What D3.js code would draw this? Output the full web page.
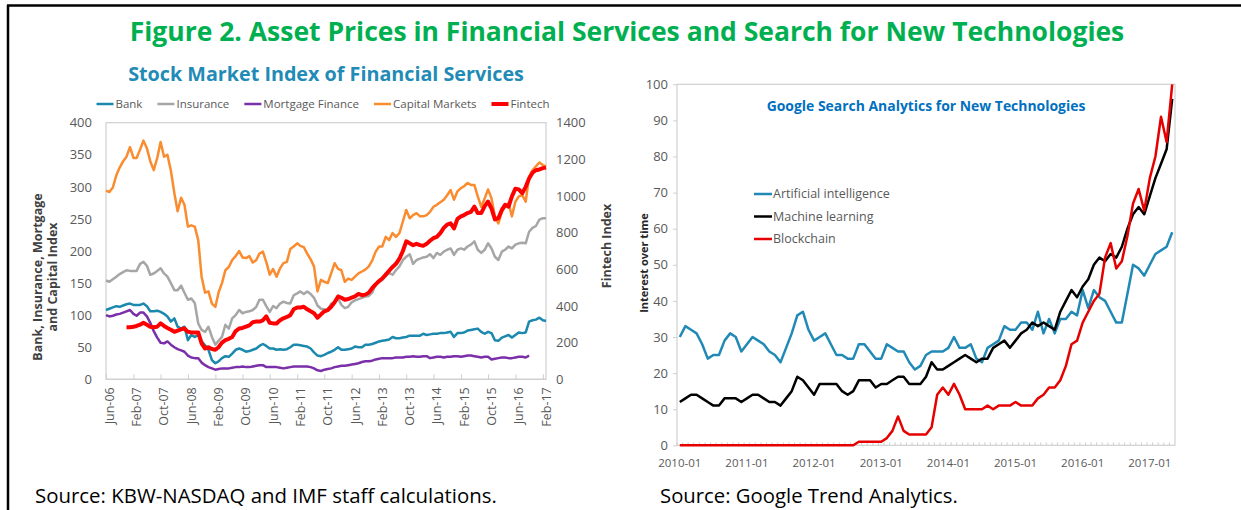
<!DOCTYPE html>
<html>
<head>
<meta charset="utf-8">
<script src="https://cdn.jsdelivr.net/npm/d3@7"></script>
<style>
  body { margin: 0; background: #fff; }
  svg { display: block; }
  text { font-family: 'Open Sans', 'DejaVu Sans', sans-serif; }
</style>
</head>
<body>
<div id="chart"></div>
<script>
// ---- left panel: stock market indices, monthly Jun-06 .. Mar-17 ----
var finStart = '2006-06', finEnd = '2017-03';
var finTickLabels = ['Jun-06','Feb-07','Oct-07','Jun-08','Feb-09','Oct-09','Jun-10','Feb-11',
    'Oct-11','Jun-12','Feb-13','Oct-13','Jun-14','Feb-15','Oct-15','Jun-16','Feb-17'];
var leftTicks = [0, 50, 100, 150, 200, 250, 300, 350, 400];
var rightTicks = [0, 200, 400, 600, 800, 1000, 1200, 1400];

var bank = [108,110,112,114,113,115,117,118,116,116,
    116,118,114,106,106,107,105,102,98,90,
    95,82,79,82,61,69,66,69,59,53,
    46,30,25,28,33,36,35,40,46,48,
    46,43,44,46,48,52,55,52,48,48,
    46,47,46,47,50,54,54,53,52,51,
    48,42,37,36,38,41,43,46,50,46,
    46,47,48,51,50,50,54,54,55,57,
    59,60,61,62,66,64,64,65,66,68,
    68,68,68,71,69,70,71,71,72,72,
    73,74,66,72,72,73,76,77,78,79,
    74,71,74,72,61,60,65,67,69,65,
    69,73,72,73,90,92,93,96,92,91];

var insurance = [154,152,156,160,164,167,170,169,169,169,
    180,183,177,163,165,169,173,165,160,150,
    139,139,146,135,124,126,119,87,77,74,
    82,66,54,60,66,85,79,95,100,108,
    103,105,106,108,113,124,124,114,105,114,
    111,118,121,119,118,131,134,137,133,137,
    133,127,115,110,109,108,118,120,126,116,
    111,113,120,123,125,127,129,130,135,148,
    152,155,161,166,163,170,176,186,191,195,
    180,186,188,190,191,195,189,197,194,199,
    202,204,194,202,204,202,207,210,215,202,
    197,202,212,204,191,186,199,202,207,204,
    210,212,213,212,230,236,239,249,251,251];

var mortgage = [100,98,99,101,102,104,106,108,102,99,
    104,104,98,88,75,65,57,56,59,54,
    50,47,45,43,37,34,33,33,26,22,
    19,17,15,16,17,17,17,18,19,19,
    20,19,19,20,21,22,22,19,19,19,
    19,18,17,18,19,20,20,20,20,20,
    19,17,14,13,15,16,17,19,20,21,
    21,22,23,24,25,27,28,28,29,31,
    32,33,33,33,33,34,34,34,35,35,
    36,35,35,36,36,33,34,35,35,34,
    35,35,36,36,35,36,37,37,36,35,
    34,35,35,31,32,33,34,34,33,33,
    34,35,35,34,37,null,null,null,null,null];

var capital = [294,292,299,318,330,340,347,362,345,345,
    358,372,360,340,326,345,370,347,350,325,
    290,262,283,272,238,240,238,217,160,135,
    137,118,113,135,150,170,175,186,192,200,
    190,189,192,182,186,196,199,183,163,172,
    160,173,181,183,203,207,212,208,206,196,
    187,176,137,155,152,150,165,181,172,170,
    152,157,155,160,165,168,171,176,185,199,
    207,207,222,217,228,222,228,246,264,251,
    256,259,254,254,256,261,269,272,276,280,
    287,295,280,293,298,301,306,303,303,285,
    269,282,296,282,254,243,261,269,275,254,
    277,285,287,277,316,326,332,338,334,332];

// fintech is read on the right axis
var fintech = [null,null,null,null,null,null,284,284,287,291,
    298,308,298,287,284,287,305,291,280,270,
    259,266,273,277,259,256,256,256,196,168,
    175,165,161,175,200,214,221,231,263,277,
    280,287,294,312,315,315,322,343,308,305,
    305,322,333,340,350,382,392,392,396,382,
    371,361,336,354,371,378,396,420,452,445,
    434,438,445,452,466,459,462,473,497,518,
    536,550,571,592,613,630,658,700,753,742,
    732,739,732,728,739,756,770,777,798,826,
    844,851,823,875,889,896,907,914,942,907,
    907,945,970,931,872,879,924,952,942,998,
    1040,1036,1015,1050,1096,1127,1141,1145,1152,1155];

// ---- right panel: google trends, monthly 2010-01 .. 2017-05 ----
var trendStart = '2010-01', trendEnd = '2017-05';
var trendTickLabels = ['2010-01','2011-01','2012-01','2013-01','2014-01','2015-01','2016-01','2017-01'];
var trendYTicks = [0,10,20,30,40,50,60,70,80,90,100];

var ai = [30,33,32,31,28,24,25,25,29,31,
    30,26,28,30,29,28,26,25,23,27,
    31,36,37,32,29,30,31,28,25,25,
    24,24,28,28,26,24,24,28,27,26,
    26,23,21,22,25,26,26,26,27,30,
    27,27,28,24,23,27,28,29,33,32,
    32,34,34,32,37,31,35,31,35,35,
    37,36,43,38,43,41,40,37,34,34,
    42,50,49,47,50,53,54,55,59];

var ml = [12,13,14,14,13,12,11,11,13,13,
    13,12,13,14,14,13,12,12,11,13,
    15,19,18,16,14,17,17,17,17,15,
    14,15,18,18,18,16,17,17,18,19,
    19,17,17,17,19,23,21,21,22,23,
    24,25,24,23,24,24,27,28,29,27,
    29,31,32,34,33,34,33,32,37,40,
    43,41,44,46,50,52,51,53,52,55,
    60,64,66,64,69,74,78,82,96];

var blockchain = [0,0,0,0,0,0,0,0,0,0,
    0,0,0,0,0,0,0,0,0,0,
    0,0,0,0,0,0,0,0,0,0,
    0,0,1,1,1,1,1,2,4,8,
    4,3,3,3,3,5,14,16,14,17,
    14,10,10,10,10,11,10,11,11,11,
    12,11,11,11,13,14,16,16,18,22,
    28,29,34,37,40,42,52,56,49,51,
    58,67,71,65,74,80,91,84,100];

var W = 1241, H = 510;
var parseYM = d3.timeParse('%Y-%m');
var gray = '#595959';

var svg = d3.select('#chart').append('svg')
    .attr('width', W)
    .attr('height', H);

// scale font so the text fills a given width
function fitWidth(sel, w) {
    var cur = sel.node().getComputedTextLength();
    var fs = parseFloat(sel.style('font-size'));
    sel.style('font-size', (fs * w / cur) + 'px');
    return sel;
}

// outer frame (top and left only)
svg.append('line').attr('x1', 7).attr('x2', W).attr('y1', 5.5).attr('y2', 5.5)
    .attr('stroke', '#000').attr('stroke-width', 2.5);
svg.append('line').attr('x1', 8).attr('x2', 8).attr('y1', 5).attr('y2', H)
    .attr('stroke', '#000').attr('stroke-width', 2.5);

fitWidth(svg.append('text')
    .attr('x', 627).attr('y', 41)
    .attr('text-anchor', 'middle')
    .style('font-size', '24px').style('font-weight', 700)
    .attr('fill', '#00B050')
    .text('Figure 2. Asset Prices in Financial Services and Search for New Technologies'), 995);

// ================= left panel =================
var finMonths = d3.timeMonth.range(parseYM(finStart), d3.timeMonth.offset(parseYM(finEnd), 1));
var L = {left: 106, right: 546, top: 122.7, bottom: 379.3};

var x = d3.scaleTime().domain([finMonths[0], finMonths[finMonths.length - 1]]).range([L.left, L.right]);
var yLeft = d3.scaleLinear().domain([0, 400]).range([L.bottom, L.top]);
var yRight = d3.scaleLinear().domain([0, 1400]).range([L.bottom, L.top]);

var left = svg.append('g');

fitWidth(left.append('text')
    .attr('x', 326).attr('y', 81)
    .attr('text-anchor', 'middle')
    .style('font-size', '18px').style('font-weight', 700)
    .attr('fill', '#1F8BB6')
    .text('Stock Market Index of Financial Services'), 396);

left.append('rect')
    .attr('x', L.left).attr('y', L.top)
    .attr('width', L.right - L.left).attr('height', L.bottom - L.top)
    .attr('fill', 'none').attr('stroke', '#CFCFCF').attr('stroke-width', 1.2);

var yAxisL = left.append('g')
    .attr('transform', 'translate(' + L.left + ',0)')
    .call(d3.axisLeft(yLeft).tickValues(leftTicks).tickSize(0).tickPadding(14));
var yAxisR = left.append('g')
    .attr('transform', 'translate(' + L.right + ',0)')
    .call(d3.axisRight(yRight).tickValues(rightTicks).tickSize(0).tickPadding(10)
        .tickFormat(d3.format('d')));

var tickDates = finTickLabels.map(d3.timeParse('%b-%y'));
var xAxisL = left.append('g')
    .attr('transform', 'translate(0,' + L.bottom + ')')
    .call(d3.axisBottom(x).tickValues(tickDates).tickSizeInner(-5).tickSizeOuter(0)
        .tickFormat(d3.timeFormat('%b-%y')));
xAxisL.selectAll('text')
    .attr('transform', 'rotate(-90)')
    .attr('text-anchor', 'end')
    .attr('x', -8).attr('y', 3).attr('dy', '0.35em');
xAxisL.selectAll('.tick line').attr('stroke', '#CFCFCF');

[yAxisL, yAxisR, xAxisL].forEach(function(a) {
    a.select('.domain').remove();
    a.selectAll('text').attr('fill', gray).style('font-size', '13px')
        .style('font-family', "'Open Sans', sans-serif");
});
xAxisL.selectAll('text').style('font-size', '12.5px');
xAxisL.append('line').attr('x1', L.left).attr('x2', L.right).attr('stroke', '#CFCFCF').attr('stroke-width', 1.2);

left.append('text')
    .attr('transform', 'translate(42,277) rotate(-90)')
    .attr('text-anchor', 'middle')
    .style('font-size', '12.5px').style('font-weight', 700).attr('fill', '#404040')
    .text('Bank, Insurance, Mortgage');
left.append('text')
    .attr('transform', 'translate(57,277) rotate(-90)')
    .attr('text-anchor', 'middle')
    .style('font-size', '12.5px').style('font-weight', 700).attr('fill', '#404040')
    .text('and Capital Index');
left.append('text')
    .attr('transform', 'translate(611,246) rotate(-90)')
    .attr('text-anchor', 'middle')
    .style('font-size', '12.5px').style('font-weight', 700).attr('fill', '#404040')
    .text('Fintech Index');

var finSeries = [
    {name: 'Bank', values: bank, color: '#1B88AE', width: 2.5, y: yLeft},
    {name: 'Insurance', values: insurance, color: '#A6A6A6', width: 2.5, y: yLeft},
    {name: 'Mortgage Finance', values: mortgage, color: '#7B2FA8', width: 2.5, y: yLeft},
    {name: 'Capital Markets', values: capital, color: '#FA8B2E', width: 2.5, y: yLeft},
    {name: 'Fintech', values: fintech, color: '#FF0000', width: 4, y: yRight}
];

finSeries.forEach(function(s) {
    var line = d3.line()
        .defined(function(d) { return d != null; })
        .x(function(d, i) { return x(finMonths[i]); })
        .y(function(d) { return s.y(d); });
    left.append('path')
        .datum(s.values)
        .attr('fill', 'none')
        .attr('stroke', s.color)
        .attr('stroke-width', s.width)
        .attr('stroke-linejoin', 'round')
        .attr('d', line);
});

// legend, laid out in one row
var legL = left.append('g').attr('transform', 'translate(0,104)');
var lx = 0;
finSeries.forEach(function(s) {
    var g = legL.append('g').attr('transform', 'translate(' + lx + ',0)');
    g.append('line').attr('x1', 0).attr('x2', 17)
        .attr('stroke', s.color).attr('stroke-width', s.width);
    var t = g.append('text').attr('x', 19).attr('dy', '0.35em')
        .style('font-size', '11.5px').attr('fill', gray).text(s.name);
    lx += 19 + t.node().getComputedTextLength() + 15;
});
legL.attr('transform', 'translate(' + (323 - (lx - 15) / 2) + ',104)');

fitWidth(svg.append('text')
    .attr('x', 35).attr('y', 503)
    .style('font-size', '17px').attr('fill', '#000')
    .text('Source: KBW-NASDAQ and IMF staff calculations.'), 462);

// ================= right panel =================
var trendMonths = d3.timeMonth.range(parseYM(trendStart), d3.timeMonth.offset(parseYM(trendEnd), 1))
    .map(d3.timeFormat('%Y-%m'));
var R = {left: 677, right: 1175, top: 84.3, bottom: 445.3};

var xb = d3.scaleBand().domain(trendMonths).range([R.left, R.right]);
var yt = d3.scaleLinear().domain([0, 100]).range([R.bottom, R.top]);

var right = svg.append('g');

right.append('rect')
    .attr('x', R.left).attr('y', R.top)
    .attr('width', R.right - R.left).attr('height', R.bottom - R.top)
    .attr('fill', 'none').attr('stroke', '#D0D0D0').attr('stroke-width', 1.2);

var yAxisT = right.append('g')
    .attr('transform', 'translate(' + R.left + ',0)')
    .call(d3.axisLeft(yt).tickValues(trendYTicks).tickSize(4).tickPadding(5));
var xAxisT = right.append('g')
    .attr('transform', 'translate(0,' + R.bottom + ')')
    .call(d3.axisBottom(xb).tickValues(trendTickLabels).tickSize(0).tickPadding(14));
[yAxisT, xAxisT].forEach(function(a) {
    a.select('.domain').remove();
    a.selectAll('line').attr('stroke', '#D0D0D0');
    a.selectAll('text').attr('fill', gray).style('font-size', '13px')
        .style('font-family', "'Open Sans', sans-serif");
});
xAxisT.selectAll('text').style('font-size', '11.5px');

// monthly minor ticks pointing inward
right.append('g').selectAll('line')
    .data(trendMonths)
    .enter().append('line')
    .attr('x1', function(d) { return xb(d); })
    .attr('x2', function(d) { return xb(d); })
    .attr('y1', R.bottom).attr('y2', R.bottom - 3)
    .attr('stroke', '#D0D0D0');

right.append('text')
    .attr('transform', 'translate(648,263) rotate(-90)')
    .attr('text-anchor', 'middle')
    .style('font-size', '11px').style('font-weight', 700).attr('fill', '#262626')
    .text('Interest over time');

fitWidth(right.append('text')
    .attr('x', 926).attr('y', 111)
    .attr('text-anchor', 'middle')
    .style('font-size', '14px').style('font-weight', 700)
    .attr('fill', '#0070C0')
    .text('Google Search Analytics for New Technologies'), 319);

var trendSeries = [
    {name: 'Artificial intelligence', values: ai, color: '#2189B6'},
    {name: 'Machine learning', values: ml, color: '#000000'},
    {name: 'Blockchain', values: blockchain, color: '#E60000'}
];

var bw = xb.bandwidth();
trendSeries.forEach(function(s) {
    var line = d3.line()
        .x(function(d, i) { return xb(trendMonths[i]) + bw / 2; })
        .y(function(d) { return yt(d); });
    right.append('path')
        .datum(s.values)
        .attr('fill', 'none')
        .attr('stroke', s.color)
        .attr('stroke-width', 2.5)
        .attr('stroke-linejoin', 'round')
        .attr('d', line);
});

var legR = right.append('g').attr('transform', 'translate(754,194)');
trendSeries.forEach(function(s, i) {
    var g = legR.append('g').attr('transform', 'translate(0,' + (i * 22.5) + ')');
    g.append('line').attr('x1', 0).attr('x2', 18)
        .attr('stroke', s.color).attr('stroke-width', 2.5);
    g.append('text').attr('x', 19).attr('dy', '0.35em')
        .style('font-size', '12.5px').attr('fill', gray).text(s.name);
});

fitWidth(svg.append('text')
    .attr('x', 660).attr('y', 503)
    .style('font-size', '17px').attr('fill', '#000')
    .text('Source: Google Trend Analytics.'), 298);
</script>
</body>
</html>
